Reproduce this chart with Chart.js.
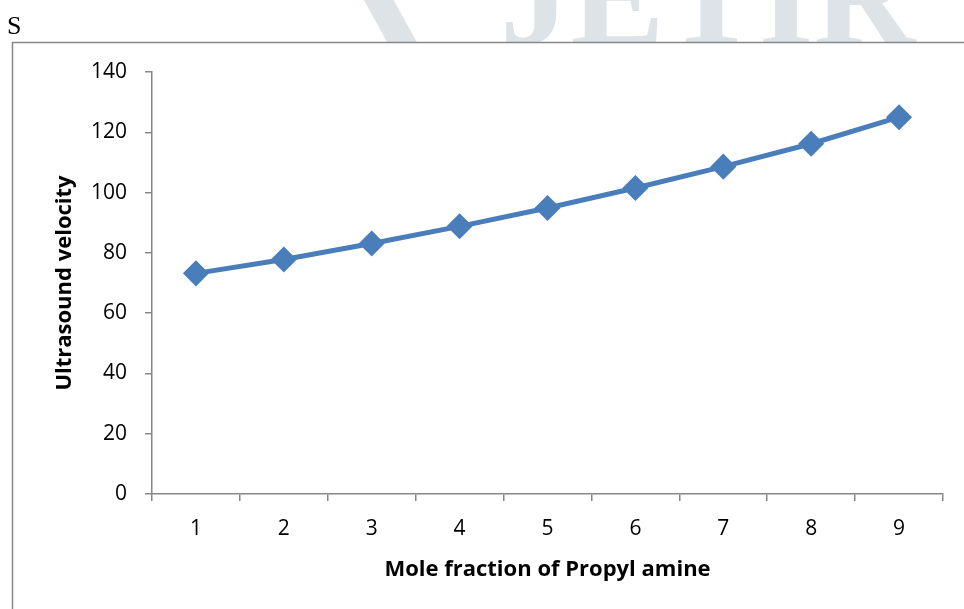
<!DOCTYPE html>
<html>
<head>
<meta charset="utf-8">
<style>
  html, body { margin: 0; padding: 0; background: #fff; }
  #wrap { width: 964px; height: 609px; }
</style>
<script src="https://cdn.jsdelivr.net/npm/chart.js@4/dist/chart.umd.min.js"></script>
</head>
<body>
<div id="wrap"><canvas id="chart" width="964" height="609"></canvas></div>
<script>
const moleFraction = ["1", "2", "3", "4", "5", "6", "7", "8", "9"];
const velocity = [73.2, 77.8, 83.1, 88.8, 94.9, 101.5, 108.6, 116.2, 125];
const yTicks = [0, 20, 40, 60, 80, 100, 120, 140];

const labelFont = "'Open Sans', 'Liberation Sans', sans-serif";

// page decoration: watermark, stray "S" and the frame around the chart
const pageBits = {
  id: "pageBits",
  beforeDraw(chart) {
    const ctx = chart.ctx;
    ctx.save();
    ctx.beginPath();
    ctx.rect(0, 0, 964, 42);
    ctx.clip();
    ctx.fillStyle = "#dde3e7";
    ctx.strokeStyle = "#dde3e7";
    ctx.lineWidth = 26;
    ctx.beginPath();
    ctx.moveTo(362, -30);
    ctx.lineTo(412, 60);
    ctx.stroke();
    ctx.font = "bold 141px 'Liberation Serif', serif";
    ctx.textBaseline = "alphabetic";
    ctx.fillText("JETIR", 500, 44);
    ctx.restore();

    ctx.save();
    ctx.fillStyle = "#000";
    ctx.font = "26px 'Liberation Serif', serif";
    ctx.textBaseline = "alphabetic";
    ctx.fillText("S", 7, 34);
    ctx.strokeStyle = "#868686";
    ctx.lineWidth = 1.5;
    ctx.beginPath();
    ctx.moveTo(12.5, 609);
    ctx.lineTo(12.5, 42.5);
    ctx.lineTo(964, 42.5);
    ctx.stroke();
    ctx.restore();
  }
};

new Chart(document.getElementById("chart"), {
  type: "line",
  data: {
    labels: moleFraction,
    datasets: [
      {
        data: velocity,
        borderColor: "#4a7ebb",
        backgroundColor: "#4a7ebb",
        borderWidth: 5,
        pointStyle: "rectRot",
        pointRadius: 9.5,
        pointHoverRadius: 9.5,
        tension: 0,
        fill: false,
      },
    ],
  },
  options: {
    responsive: false,
    animation: false,
    layout: { padding: { left: 12, right: 21, top: 72, bottom: 0 } },
    plugins: { legend: { display: false }, tooltip: { enabled: false } },
    scales: {
      x: {
        offset: true,
        grid: {
          offset: true,
          drawOnChartArea: false,
          drawTicks: true,
          tickLength: 7,
          color: "#868686",
          lineWidth: 1.5,
        },
        border: { color: "#868686", width: 1.5 },
        ticks: { color: "#000", font: { family: labelFont, size: 21 }, padding: 15 },
        title: {
          display: true,
          text: "Mole fraction of Propyl amine",
          color: "#000",
          font: { family: labelFont, size: 22, weight: "bold" },
          padding: { top: 0, bottom: 26 },
        },
        afterFit(scale) { scale.height = 115; },
      },
      y: {
        min: 0,
        max: 140,
        afterBuildTicks(scale) { scale.ticks = yTicks.map(v => ({ value: v })); },
        grid: {
          drawOnChartArea: false,
          drawTicks: true,
          tickLength: 7,
          color: "#868686",
          lineWidth: 1.5,
        },
        border: { color: "#868686", width: 1.5 },
        ticks: { color: "#000", font: { family: labelFont, size: 21 }, padding: 18 },
        title: {
          display: true,
          text: "Ultrasound velocity",
          color: "#000",
          font: { family: labelFont, size: 22, weight: "bold" },
          padding: { top: 40, bottom: 0 },
        },
        afterFit(scale) { scale.width = 140; },
      },
    },
  },
  plugins: [pageBits],
});
</script>
</body>
</html>
